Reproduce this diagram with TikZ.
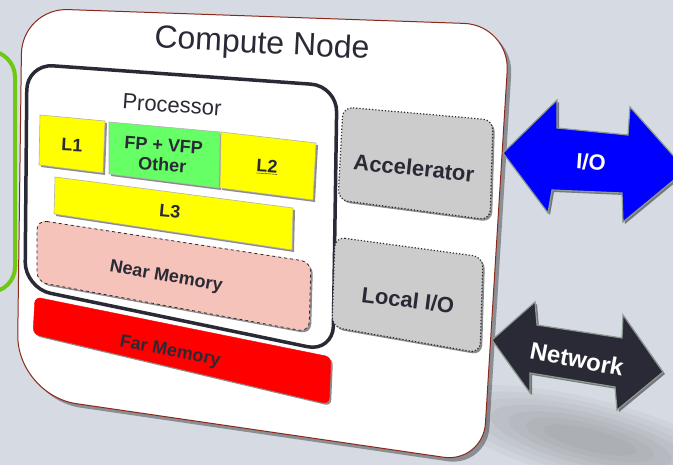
\documentclass[tikz,border=0pt]{standalone}
\usepackage{fontspec}
\setmainfont{Liberation Sans}
\usetikzlibrary{shadows,positioning}

\definecolor{bgblue}{RGB}{214,219,227}
\definecolor{inkdark}{RGB}{42,42,54}
\definecolor{cacheyellow}{RGB}{255,255,0}
\definecolor{fpgreen}{RGB}{102,255,102}
\definecolor{nearpink}{RGB}{245,195,185}
\definecolor{farred}{RGB}{255,0,0}
\definecolor{devgray}{RGB}{204,204,204}
\definecolor{nodeedge}{RGB}{140,40,25}
\definecolor{sidegreen}{RGB}{110,200,20}
\definecolor{arrowedge}{RGB}{140,155,145}

\begin{document}
\begin{tikzpicture}[x=1pt,y=-1pt,
    boxshadow/.style={drop shadow={shadow xshift=2pt,shadow yshift=-2pt,opacity=0.45,fill=black}},
    cachebox/.style={fill=cacheyellow, draw=gray!60, line width=0.6pt, boxshadow},
    devbox/.style={fill=devgray, draw=inkdark, dotted, line width=1.2pt, rounded corners=10pt, boxshadow},
    bigarrow/.style={draw=arrowedge, line width=1.2pt, boxshadow},
    lbl/.style={font=\bfseries\fontsize{18}{20}\selectfont, text=inkdark},
    devlbl/.style={font=\bfseries\fontsize{22}{24}\selectfont, text=inkdark},
    arrowlbl/.style={font=\bfseries\fontsize{22}{24}\selectfont, text=white},
    ]
\clip (0,0) rectangle (673,465);
\fill[bgblue] (0,0) rectangle (673,465);

% soft floor shadow
\begin{scope}[rotate around={-14:(590,440)}]
\foreach \k in {1,...,7}
    \fill[black!60, opacity=0.06] (590,440) ellipse ({30+18*\k} and {6+5*\k});
\end{scope}

% side box of the neighbour
\draw[sidegreen, line width=4pt, rounded corners=25pt] (-30,50) -- (15,52) -- (15,292) -- (-30,292);

% compute node
\draw[nodeedge, fill=white, line width=1pt, rounded corners=46pt,
    drop shadow={shadow xshift=4pt,shadow yshift=-4pt,opacity=0.35,fill=black}]
    (22,8) -- (510,25) [rounded corners=40pt] -- (483,463) [rounded corners=60pt] -- (17,395)
    [rounded corners=46pt] -- cycle;
\node[font=\fontsize{32}{34}\selectfont, text=inkdark, rotate=-3] (title) at (262,45) {Compute Node};

% processor
\draw[inkdark, line width=3.5pt, rounded corners=26pt] (27,64) -- (337,86) -- (333,352) -- (25,288) -- cycle;
\node[font=\fontsize{22}{24}\selectfont, text=inkdark, rotate=-4] (proc) at (172,105) {Processor};

\path[cachebox] (40,115) -- (105,121) -- (103,173) -- (39,165) -- cycle;
\node[lbl, rotate=-3] (l1) at (72,145) {L1};
\path[cachebox, fill=fpgreen] (109,122) -- (220,132) -- (219,188) -- (109,174) -- cycle;
\node[lbl, align=center, rotate=-4] (fp) at (163,155) {FP + VFP\\Other};
\path[cachebox] (221,132) -- (316,143) -- (313,200) -- (220,188) -- cycle;
\node[lbl, rotate=-4] (l2) at (267,167) {\underline{L2}};
\path[cachebox] (55,177) -- (293,208) -- (292,250) -- (54,214) -- cycle;
\node[lbl, rotate=-5] (l3) at (170,211) {L3};

\draw[nearpink, fill=nearpink, rounded corners=10pt, boxshadow] (37,220) -- (311,262) -- (309,332) -- (37,282) -- cycle;
\draw[inkdark, dashed, line width=0.8pt, rounded corners=10pt] (37,220) -- (311,262) -- (309,332) -- (37,282) -- cycle;
\node[lbl, rotate=-10] (near) at (166,277) {Near Memory};

\draw[farred, fill=farred, rounded corners=6pt, boxshadow] (35,297) -- (331,357) -- (329,404) -- (33,334) -- cycle;
\node[lbl, rotate=-11] (far) at (170,352) {Far Memory};

% devices
\path[devbox] (343,107) -- (493,120) -- (490,220) -- (338,200) -- cycle;
\node[devlbl, rotate=-6] (acc) at (414,168) {Accelerator};
\path[devbox] (335,237) -- (483,257) -- (480,353) -- (332,327) -- cycle;
\node[devlbl, rotate=-7] (lio) at (408,300) {Local I/O};

% links
\path[bigarrow, fill=blue] (503,153) -- (557,100) -- (557,128) -- (628,135) -- (630,107)
    -- (686,170) -- (623,222) -- (622,193) -- (552,190) -- (548,213) -- cycle;
\node[arrowlbl, rotate=-4] (io) at (591,162) {I/O};
\path[bigarrow, fill=inkdark] (492,340) -- (535,302) -- (537,325) -- (622,338) -- (623,315)
    -- (663,372) -- (617,410) -- (615,387) -- (530,373) -- (530,393) -- cycle;
\node[arrowlbl, font=\bfseries\fontsize{24}{26}\selectfont, rotate=-11] (net) at (577,359) {Network};
\end{tikzpicture}
\end{document}
